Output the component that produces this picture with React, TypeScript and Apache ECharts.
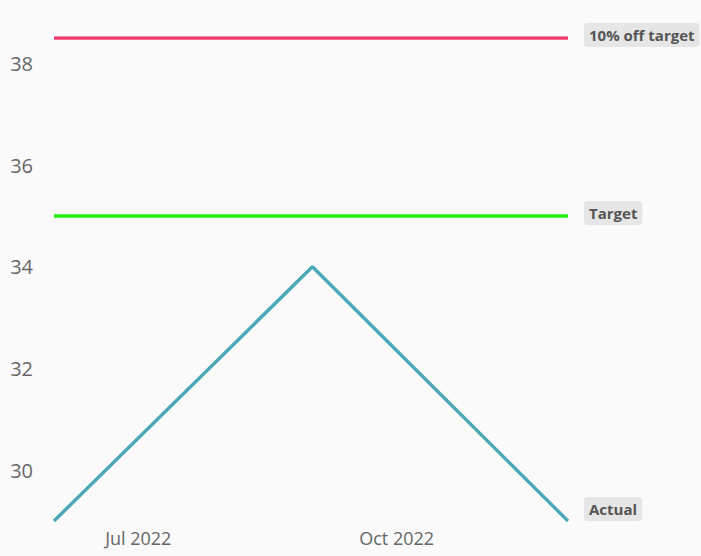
import React, { useEffect, useRef } from "react";
import * as echarts from "echarts";

const dates = ["2022-06-01", "2022-09-01", "2022-12-01"];
const actualValues = [29, 34, 29];
const targetValues = [35, 35, 35];
const offTargetValues = [38.5, 38.5, 38.5];
const seriesNames = ["Actual", "Target", "10% off target"];
const seriesColors = ["#4aa8b7", "#22ee11", "#ee3a68"];
const labelOffsets = [-12, -3, -3];
const xTickDates = ["2022-07-01", "2022-10-01"];
const monthNames = ["Jan", "Feb", "Mar", "Apr", "May", "Jun", "Jul", "Aug", "Sep", "Oct", "Nov", "Dec"];
const yTicks = [30, 32, 34, 36, 38];
const yMin = 29;
const yMax = 38.5;

const ts = (d: string) => {
  const [y, m, dd] = d.split("-").map(Number);
  return new Date(y, m - 1, dd).getTime();
};

export default function App() {
  const ref = useRef<HTMLDivElement>(null);
  useEffect(() => {
    if (!ref.current) return;
    const chart = echarts.init(ref.current, undefined, { renderer: "svg" });
    const allValues = [actualValues, targetValues, offTargetValues];
    chart.setOption({
      animation: false,
      backgroundColor: "#fafafa",
      grid: { left: 54, right: 133, top: 38, bottom: 35, containLabel: false },
      xAxis: {
        type: "value",
        min: ts(dates[0]),
        max: ts(dates[dates.length - 1]),
        axisLine: { show: false },
        axisTick: { show: false },
        splitLine: { show: false },
        axisLabel: {
          customValues: xTickDates.map(ts),
          formatter: (v: number) => {
            const d = new Date(v);
            return monthNames[d.getMonth()] + " " + d.getFullYear();
          },
          color: "#666666",
          fontSize: 18,
          fontFamily: "Open Sans",
          margin: 8,
        },
      },
      yAxis: {
        type: "value",
        min: yMin,
        max: yMax,
        axisLine: { show: false },
        axisTick: { show: false },
        splitLine: { show: false },
        axisLabel: {
          customValues: yTicks,
          color: "#666666",
          fontSize: 20,
          fontFamily: "Open Sans",
          margin: 21,
        },
      },
      series: allValues.map((vals, i) => ({
        name: seriesNames[i],
        type: "line",
        data: dates.map((d, j) => [ts(d), vals[j]]),
        showSymbol: false,
        symbol: "none",
        lineStyle: { color: seriesColors[i], width: 3.4 },
        itemStyle: { color: seriesColors[i] },
        endLabel: {
          show: true,
          formatter: seriesNames[i],
          distance: 16,
          offset: [0, labelOffsets[i]],
          color: "#555555",
          fontWeight: "bold",
          fontSize: 15,
          fontFamily: "Open Sans",
          backgroundColor: "#e6e6e6",
          borderRadius: 4,
          padding: [5, 5, 4, 5],
        },
      })),
    });
    return () => chart.dispose();
  }, []);
  return (
    <div
      ref={ref}
      style={{ position: "absolute", left: 0, top: 0, width: 701, height: 556 }}
    />
  );
}
